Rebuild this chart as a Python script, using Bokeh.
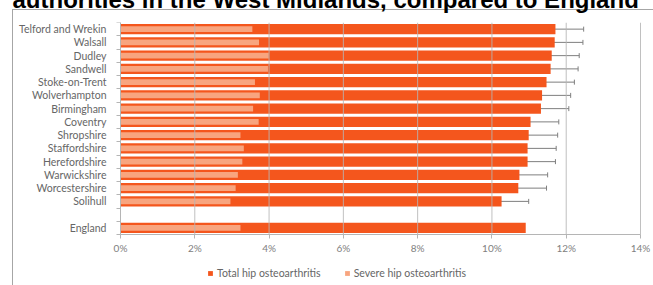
from bokeh.plotting import figure
from bokeh.models import (ColumnDataSource, FixedTicker, Whisker, TeeHead,
                          Legend, LegendItem, Range1d)
from bokeh.embed import file_html
from bokeh.resources import INLINE

# ---- data ----
la_names = ["Telford and Wrekin", "Walsall", "Dudley", "Sandwell", "Stoke-on-Trent",
            "Wolverhampton", "Birmingham", "Coventry", "Shropshire", "Staffordshire",
            "Herefordshire", "Warwickshire", "Worcestershire", "Solihull"]
la_total = [11.71, 11.69, 11.61, 11.58, 11.47, 11.35, 11.32, 11.04, 10.99, 10.96,
            10.96, 10.74, 10.71, 10.26]
la_total_lo = [10.88, 10.88, 10.77, 10.77, 10.66, 10.52, 10.48, 10.23, 10.14, 10.14,
               10.14, 9.94, 9.89, 9.47]
la_total_hi = [12.47, 12.45, 12.35, 12.32, 12.22, 12.12, 12.07, 11.80, 11.77, 11.73,
               11.71, 11.50, 11.47, 10.99]
la_severe = [3.55, 3.73, 3.99, 3.97, 3.62, 3.75, 3.57, 3.72, 3.23, 3.32, 3.28, 3.16,
             3.10, 2.96]
la_severe_lo = [3.01, 3.19, 3.38, 3.37, 3.08, 3.21, 3.03, 3.16, 2.76, 2.83, 2.76, 2.69,
                2.65, 2.51]
la_severe_hi = [4.13, 4.33, 4.67, 4.64, 4.26, 4.42, 4.17, 4.38, 3.79, 3.86, 3.79, 3.68,
                3.61, 3.43]
england_name = "England"
england_total = 10.91
england_severe = 3.23

x_ticks = [0, 2, 4, 6, 8, 10, 12, 14]
x_tick_labels = ["0%", "2%", "4%", "6%", "8%", "10%", "12%", "14%"]
series_names = ["Total hip osteoarthritis", "Severe hip osteoarthritis"]
title_text = "authorities in the West Midlands, compared to England"

# ---- styling ----
DARK = "#F4561D"
LIGHT = "#F8A57F"
GRID = "#b5b5b5"
BORDER = "#a6a6a6"
LABEL = "#666666"
FONT = "Lato"

W, H = 653, 285
TOP = 50            # room above the frame for the title line
SHIFT = TOP - 22    # canvas is pulled up so only the title's lower part shows
SLOT_PX = 13.25     # height of one row in pixels
AXIS_Y = 234        # page y of the x axis line
AXIS_X = 120        # page x of the 0% line
PX_PER_PCT = 520 / 14.0

n_slots = len(la_names) + 2
names = la_names + [england_name]
ys = [n_slots - 1 - i + 0.5 for i in range(len(la_names))] + [0.5]
totals = la_total + [england_total]
severes = la_severe + [england_severe]

src = ColumnDataSource(dict(y=ys, name=names, total=totals, severe=severes))
err = ColumnDataSource(dict(y=ys[:len(la_names)], tlo=la_total_lo, thi=la_total_hi,
                            slo=la_severe_lo, shi=la_severe_hi))
grid_src = ColumnDataSource(dict(x=x_ticks, y0=[0] * len(x_ticks),
                                 y1=[n_slots] * len(x_ticks)))

# the frame spans the whole canvas width and reaches the window bottom; both axes
# are pinned at 0 so their labels and the legend lie inside the frame
x_left = -AXIS_X / PX_PER_PCT
x_right = (W - AXIS_X) / PX_PER_PCT
y_bottom = -(H - AXIS_Y) / SLOT_PX

p = figure(width=W, height=H + SHIFT, output_backend="svg",
           toolbar_location=None, tools="",
           x_range=Range1d(x_left, x_right), y_range=Range1d(y_bottom, n_slots),
           min_border_left=0, min_border_right=0,
           min_border_top=TOP, min_border_bottom=0)
p.styles = {
    "margin-top": f"-{SHIFT}px",
    # the chart's outer border (left and top edges)
    "background-image": f"linear-gradient({BORDER}, {BORDER}), "
                        f"linear-gradient({BORDER}, {BORDER})",
    "background-repeat": "no-repeat, no-repeat",
    "background-position": f"12px {9 + SHIFT}px, 12px {9 + SHIFT}px",
    "background-size": "1px 100%, 100% 1px",
}
p.border_fill_color = None
p.outline_line_color = None
p.background_fill_color = None

p.title.text = title_text
p.title.text_font = "Liberation Sans"
p.title.text_font_size = "24px"
p.title.text_font_style = "bold"
p.title.text_color = "black"
p.title.align = "left"
p.title.offset = 12
p.title.standoff = 19

r_total = p.hbar(y="y", right="total", left=0, height=0.78, source=src,
                 fill_color=DARK, line_color=None)
r_sev = p.hbar(y="y", right="severe", left=0, height=0.42, source=src,
               fill_color=LIGHT, line_color=None)

# vertical gridlines (on top of the bars, stopping at the axis)
p.segment(x0="x", y0="y0", x1="x", y1="y1", source=grid_src,
          line_color=GRID, line_width=1, line_alpha=0.85)

for lo, hi in (("tlo", "thi"), ("slo", "shi")):
    w = Whisker(source=err, base="y", lower=lo, upper=hi, dimension="width",
                line_color="#7f7f7f", line_width=1,
                upper_head=TeeHead(size=5, line_color="#7f7f7f", line_width=1),
                lower_head=TeeHead(size=5, line_color="#7f7f7f", line_width=1))
    p.add_layout(w)

p.xgrid.visible = False
p.ygrid.visible = False

p.xaxis.fixed_location = 0
p.xaxis.bounds = (0, 14)
p.xaxis.ticker = FixedTicker(ticks=x_ticks)
p.xaxis.major_label_overrides = {tk: lb for tk, lb in zip(x_ticks, x_tick_labels)}
p.xaxis.axis_line_color = GRID
p.xaxis.major_tick_line_color = GRID
p.xaxis.major_tick_out = 4
p.xaxis.major_tick_in = 0
p.xaxis.minor_tick_line_color = None
p.xaxis.major_label_text_font = FONT
p.xaxis.major_label_text_font_size = "10px"
p.xaxis.major_label_text_color = "#808080"
p.xaxis.major_label_standoff = 3

p.yaxis.fixed_location = 0
p.yaxis.bounds = (0, n_slots)
p.yaxis.ticker = FixedTicker(ticks=ys, minor_ticks=list(range(n_slots + 1)))
p.yaxis.major_label_overrides = {yv: nm for yv, nm in zip(ys, names)}
p.yaxis.axis_line_color = GRID
p.yaxis.major_tick_line_color = None
p.yaxis.major_tick_out = 0
p.yaxis.major_tick_in = 0
p.yaxis.minor_tick_line_color = GRID
p.yaxis.minor_tick_out = 4
p.yaxis.minor_tick_in = 0
p.yaxis.major_label_text_font = FONT
p.yaxis.major_label_text_font_size = "10.5px"
p.yaxis.major_label_text_color = LABEL
p.yaxis.major_label_standoff = 10

legend = Legend(items=[LegendItem(label=series_names[0], renderers=[r_total]),
                       LegendItem(label=series_names[1], renderers=[r_sev])],
                orientation="horizontal", location=(207, 6),
                glyph_width=6, glyph_height=6, label_height=12, label_standoff=4,
                spacing=23, padding=0, margin=0, border_line_color=None,
                background_fill_alpha=0, label_text_font=FONT,
                label_text_font_size="10.5px", label_text_color=LABEL)
p.add_layout(legend, "center")

open("out.html", "w").write(file_html(p, INLINE))
